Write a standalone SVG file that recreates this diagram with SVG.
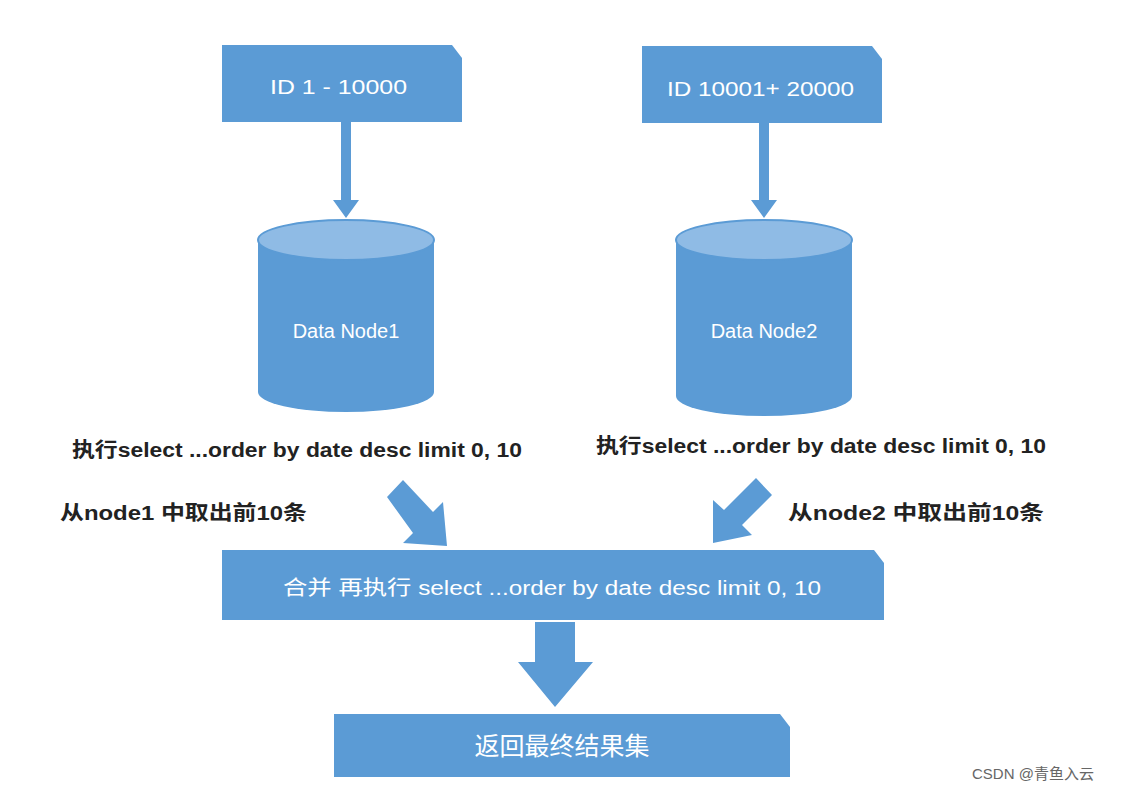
<svg xmlns="http://www.w3.org/2000/svg" width="1122" height="790" viewBox="0 0 1122 790">
<style>
.box{fill:#5b9bd5}
.top{fill:#8fbbe5;stroke:#5b9bd5;stroke-width:2}
.wt{fill:#fff;font-family:"Liberation Sans","Noto Sans CJK SC",sans-serif;font-size:20px}
.bt{fill:#222;font-family:"Liberation Sans","Noto Sans CJK SC",sans-serif;font-size:20px;font-weight:bold}
</style>
<rect width="1122" height="790" fill="#fff"/>
<g id="connectors" fill="#5b9bd5">
<polygon points="341,122 351,122 351,200 359,200 346,218 333,200 341,200"/>
<polygon points="759,123 769,123 769,200 777,200 764,218 751,200 759,200"/>
<polygon points="387,497 403,480 433,512 443,502 447,546 403,543 413,533"/>
<polygon points="756,478 772,495 742,525 752,535 713,543 713,500 724,510"/>
<polygon points="535,622 575,622 575,662 593,662 555,707 518,662 535,662"/>
</g>
<g id="box1"><polygon class="box" points="222,45 452,45 462,58 462,122 222,122"/><text class="wt" x="270" y="94" textLength="137" lengthAdjust="spacingAndGlyphs">ID  1 - 10000</text></g>
<g id="box2"><polygon class="box" points="642,46 872,46 882,59 882,123 642,123"/><text class="wt" x="667" y="96" textLength="187" lengthAdjust="spacingAndGlyphs">ID  10001+ 20000</text></g>
<g id="db1"><path class="box" d="M258,240 L258,392 A88,20 0 0 0 434,392 L434,240 Z"/><ellipse class="top" cx="346" cy="240" rx="88" ry="20"/><text class="wt" x="346" y="338" text-anchor="middle">Data Node1</text></g>
<g id="db2"><path class="box" d="M676,240 L676,396 A88,20 0 0 0 852,396 L852,240 Z"/><ellipse class="top" cx="764" cy="240" rx="88" ry="20"/><text class="wt" x="764" y="338" text-anchor="middle">Data Node2</text></g>
<text class="bt" x="72" y="457" textLength="450" lengthAdjust="spacingAndGlyphs">执行select ...order by date desc limit 0, 10</text>
<text class="bt" x="596" y="453" textLength="450" lengthAdjust="spacingAndGlyphs">执行select ...order by date desc limit 0, 10</text>
<text class="bt" x="60" y="520" textLength="247" lengthAdjust="spacingAndGlyphs">从node1 中取出前10条</text>
<text class="bt" x="788" y="520" textLength="256" lengthAdjust="spacingAndGlyphs">从node2 中取出前10条</text>
<g id="merge"><polygon class="box" points="222,550 874,550 884,563 884,620 222,620"/><text class="wt" x="283" y="595" textLength="538" lengthAdjust="spacingAndGlyphs">合并  再执行 select ...order by date desc limit 0, 10</text></g>
<g id="final"><polygon class="box" points="334,714 780,714 790,727 790,777 334,777"/><text class="wt" x="562" y="755" text-anchor="middle" style="font-size:25px">返回最终结果集</text></g>
<text x="972" y="779" font-family="Liberation Sans,'Noto Sans CJK SC',sans-serif" font-size="15" fill="#666">CSDN @青鱼入云</text>
</svg>
